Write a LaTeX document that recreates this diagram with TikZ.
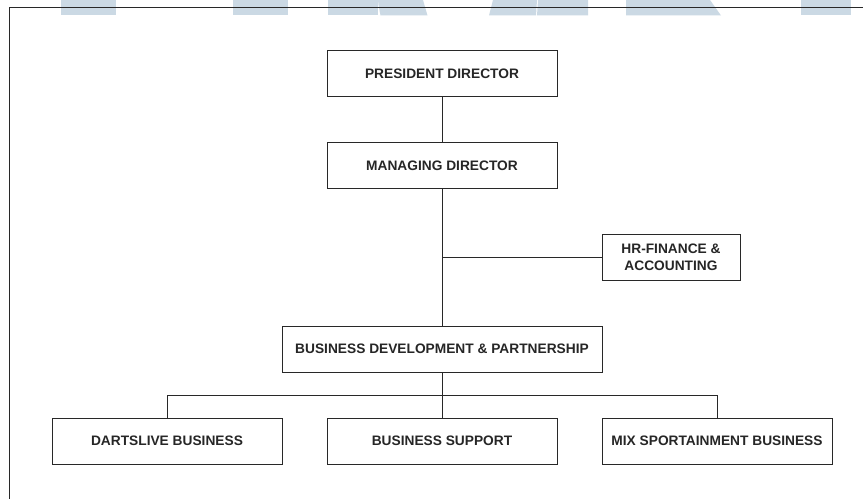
\documentclass[tikz,border=0pt]{standalone}
\usepackage{fontspec}
\setmainfont{Liberation Sans}
\definecolor{wm}{RGB}{203,217,228}
\definecolor{ln}{RGB}{40,40,40}
\tikzset{
  x=0.75pt,y=-0.75pt,
  orgbox/.style={draw=ln,line width=0.75pt,fill=white,inner sep=0pt,align=center,font=\fontsize{10.3pt}{12.9pt}\selectfont\bfseries,text=black!85},
  link/.style={draw=ln,line width=0.75pt},
  mark block/.style={fill=wm,draw=none}
}
\begin{document}
\begin{tikzpicture}
\useasboundingbox (0,0) rectangle (863,499);
\fill[white] (0,0) rectangle (863,499);
\fill[mark block] (61,0) rectangle (116,15.5);
\fill[mark block] (233,0) rectangle (288,15.5);
\fill[mark block] (328,0) rectangle (378,15.5);
\fill[mark block] (378,0) -- (423,0) -- (427.5,15.5) -- (380.5,15.5) -- (378.5,5) -- cycle;
\fill[mark block] (493,0) -- (537,0) -- (536,15.5) -- (489,15.5) -- cycle;
\fill[mark block] (538,0) -- (588,0) -- (588,15.5) -- (537,15.5) -- cycle;
\fill[mark block] (626,0) -- (710,0) -- (721,15.5) -- (626,15.5) -- cycle;
\fill[mark block] (801,0) rectangle (851,15.5);
\draw[link] (863,8) -- (9.5,8) -- (9.5,499);
\node[orgbox,minimum width=172.5pt,minimum height=34.5pt] (pd) at (442,74) {PRESIDENT DIRECTOR};
\node[orgbox,minimum width=172.5pt,minimum height=34.5pt] (md) at (442,165.4) {MANAGING DIRECTOR};
\node[orgbox,minimum width=103.5pt,minimum height=34.5pt] (hr) at (671,257) {HR-FINANCE \&\\ACCOUNTING};
\node[orgbox,minimum width=240pt,minimum height=34.5pt] (bd) at (442,349) {BUSINESS DEVELOPMENT \& PARTNERSHIP};
\node[orgbox,minimum width=172.5pt,minimum height=34.5pt] (dl) at (167,441) {DARTSLIVE BUSINESS};
\node[orgbox,minimum width=172.5pt,minimum height=34.5pt] (bs) at (442,441) {BUSINESS SUPPORT};
\node[orgbox,minimum width=172.5pt,minimum height=34.5pt] (mx) at (717,441) {MIX SPORTAINMENT BUSINESS};
\coordinate (bus) at (442,395);
\coordinate (tee) at (442,257);
\draw[link] (pd) -- (md);
\draw[link] (md) -- (bd);
\draw[link] (tee) -- (hr);
\draw[link] (bd) -- (bs);
\draw[link] (bus) -| (dl);
\draw[link] (bus) -| (mx);
\end{tikzpicture}
\end{document}
